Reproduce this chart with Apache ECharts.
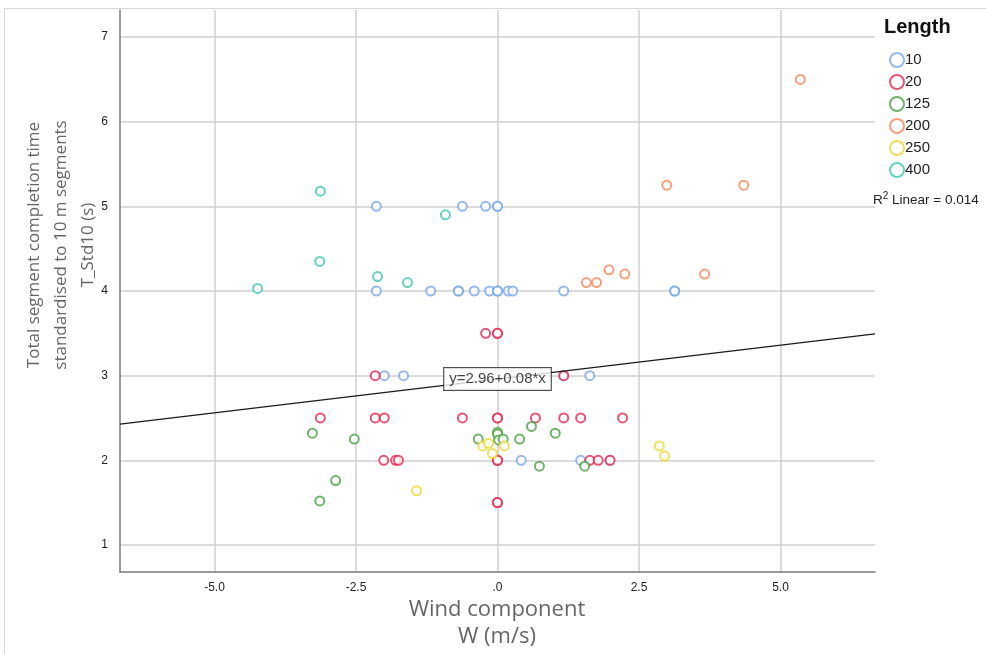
<!DOCTYPE html>
<html>
<head>
<meta charset="utf-8">
<script src="https://cdn.jsdelivr.net/npm/echarts@6/dist/echarts.min.js"></script>
<style>
  html, body { margin: 0; padding: 0; background: #fff; }
  #chart { width: 986px; height: 654px; }
</style>
</head>
<body>
<div id="chart"></div>
<script>
// Wind component W (m/s) vs. standardised segment time T_Std10 (s), by segment length
const lengths = ['10', '20', '125', '200', '250', '400'];

const w10 = [-2.14, -0.62, -0.21, 0, 0,
  -2.14, -1.18, -0.69, -0.69, -0.41, -0.14, 0, 0, 0.19, 0.27, 1.17, 3.13, 3.13,
  -2.0, -1.66, 1.63, 1.17,
  0, 0.42, 1.47, 1.98];
const t10 = [5, 5, 5, 5, 5,
  4, 4, 4, 4, 4, 4, 4, 4, 4, 4, 4, 4, 4,
  3, 3, 3, 3,
  2, 2, 2, 2];

const w20 = [-0.21, 0, 0,
  -2.16, 1.17,
  -3.13, -2.16, -2.0, -0.62, 0, 0, 0.67, 1.17, 1.47, 2.21,
  -2.01, -1.80, -1.75, 0, 0, 1.63, 1.78, 1.99,
  0, 0];
const t20 = [3.5, 3.5, 3.5,
  3, 3,
  2.5, 2.5, 2.5, 2.5, 2.5, 2.5, 2.5, 2.5, 2.5, 2.5,
  2, 2, 2, 2, 2, 2, 2, 2,
  1.5, 1.5];

const w125 = [-3.27, -2.53, -2.86, -3.14, -0.34, 0, 0, 0.02, 0.1, 0.39, 0.6, 1.02, 0.74, 1.54];
const t125 = [2.32, 2.25, 1.76, 1.52, 2.25, 2.33, 2.31, 2.24, 2.25, 2.25, 2.40, 2.32, 1.93, 1.93];

const w200 = [5.35, 2.99, 4.35, 1.57, 1.75, 1.97, 2.25, 3.66];
const t200 = [6.50, 5.25, 5.25, 4.10, 4.10, 4.25, 4.20, 4.20];

const w250 = [-0.26, -0.16, -0.09, 0.12, -1.43, 2.86, 2.95];
const t250 = [2.17, 2.20, 2.08, 2.17, 1.64, 2.17, 2.05];

const w400 = [-3.13, -0.92, -3.14, -2.12, -1.59, -4.24];
const t400 = [5.18, 4.90, 4.35, 4.17, 4.10, 4.03];

// Linear fit of the pooled data
const fitIntercept = 2.96;
const fitSlope = 0.08;
const fitR2 = 0.014;

// Axis ranges and tick labels
const xRange = [-6.67, 6.67];
const yRange = [0.68, 7.32];
const xTicks = [-5, -2.5, 0, 2.5, 5];
const xTickLabels = ['-5.0', '-2.5', '.0', '2.5', '5.0'];
const yTicks = [1, 2, 3, 4, 5, 6, 7];
const yTickLabels = ['1', '2', '3', '4', '5', '6', '7'];

const colors = ['#78a8ec', '#e3284f', '#4b9f45', '#f5875a', '#ecd931', '#3fc7b2'];

const xs = [w10, w20, w125, w200, w250, w400];
const ys = [t10, t20, t125, t200, t250, t400];

const tickFont = '"Liberation Sans Narrow", "Liberation Sans", Arial, sans-serif';
const plainFont = '"Liberation Sans", Arial, sans-serif';
const titleFont = '"Open Sans", "Noto Sans", sans-serif';

const scatterSeries = lengths.map((name, i) => ({
  name: name,
  type: 'scatter',
  symbol: 'emptyCircle',
  symbolSize: 9,
  itemStyle: { color: colors[i], borderColor: colors[i], borderWidth: 1.6 },
  emphasis: { disabled: true },
  data: xs[i].map((x, k) => [x, ys[i][k]]),
  z: 3
}));

const fitLine = {
  name: 'fit',
  type: 'line',
  data: xRange.map(x => [x, fitIntercept + fitSlope * x]),
  symbol: 'none',
  lineStyle: { color: '#1a1a1a', width: 1.3 },
  silent: true,
  z: 4
};

const fitLabel = {
  name: 'fitLabel',
  type: 'scatter',
  symbolSize: 0,
  data: [[0, fitIntercept]],
  silent: true,
  z: 6,
  label: {
    show: true,
    position: 'inside',
    formatter: 'y=' + fitIntercept.toFixed(2) + '+' + fitSlope.toFixed(2) + '*x',
    fontFamily: tickFont,
    fontSize: 15,
    color: '#111',
    backgroundColor: '#fff',
    borderColor: '#222',
    borderWidth: 1,
    padding: [4, 5, 3, 5]
  }
};

const chart = echarts.init(document.getElementById('chart'), null, { renderer: 'canvas' });

chart.setOption({
  animation: false,
  backgroundColor: '#fff',
  grid: { left: 120, right: 111, top: 10, bottom: 82 },
  xAxis: {
    type: 'value',
    min: xRange[0],
    max: xRange[1],
    axisLine: { show: true, onZero: false, lineStyle: { color: '#7a7a7a', width: 1.5 } },
    axisTick: { show: false, customValues: xTicks },
    axisLabel: {
      customValues: xTicks,
      formatter: v => xTickLabels[xTicks.indexOf(v)] ?? '',
      fontFamily: tickFont,
      fontSize: 12,
      color: '#222',
      margin: 10
    },
    splitLine: { show: true, lineStyle: { color: '#cfcfcf', width: 1.5 } }
  },
  yAxis: {
    type: 'value',
    min: yRange[0],
    max: yRange[1],
    axisLine: { show: true, onZero: false, lineStyle: { color: '#7a7a7a', width: 1.5 } },
    axisTick: { show: false, customValues: yTicks },
    axisLabel: {
      customValues: yTicks,
      formatter: v => yTickLabels[yTicks.indexOf(v)] ?? '',
      fontFamily: tickFont,
      fontSize: 12,
      color: '#222',
      margin: 12
    },
    splitLine: { show: true, lineStyle: { color: '#cfcfcf', width: 1.5 } }
  },
  legend: {
    data: lengths,
    orient: 'vertical',
    left: 884,
    top: 47,
    itemWidth: 14,
    itemHeight: 14,
    itemGap: 6,
    icon: 'emptyCircle',
    itemStyle: { borderWidth: 1.4 },
    textStyle: { fontFamily: plainFont, fontSize: 15, color: '#222', padding: [0, 0, 0, -4] },
    selectedMode: false
  },
  graphic: [
    {
      type: 'rect',
      shape: { x: 4.5, y: 8.5, width: 1000, height: 700 },
      style: { fill: 'none', stroke: '#d6d6d6', lineWidth: 1 },
      silent: true,
      z: -1
    },
    {
      type: 'text',
      left: 884,
      top: 17,
      style: { text: 'Length', font: 'bold 20px ' + plainFont, fill: '#111' }
    },
    {
      type: 'text',
      left: 873,
      top: 191,
      style: {
        text: '{b|R}{s|2}{b| Linear = ' + fitR2.toFixed(3) + '}',
        rich: {
          b: { fontFamily: plainFont, fontSize: 13.5, fill: '#222', verticalAlign: 'bottom' },
          s: { fontFamily: plainFont, fontSize: 10, fill: '#222', verticalAlign: 'top', padding: [0, 0, 6, 0] }
        }
      }
    },
    {
      type: 'text',
      x: 497,
      y: 623,
      style: {
        text: 'Wind component\nW (m/s)',
        font: '22px ' + titleFont,
        fill: '#666',
        align: 'center',
        verticalAlign: 'middle',
        lineHeight: 27
      }
    },
    {
      type: 'text',
      x: 61,
      y: 245,
      rotation: Math.PI / 2,
      style: {
        text: 'Total segment completion time\nstandardised to 10 m segments\nT_Std10 (s)',
        font: '17px ' + titleFont,
        fill: '#666',
        align: 'center',
        verticalAlign: 'middle',
        lineHeight: 27
      }
    }
  ],
  series: [...scatterSeries, fitLine, fitLabel]
});
</script>
</body>
</html>
